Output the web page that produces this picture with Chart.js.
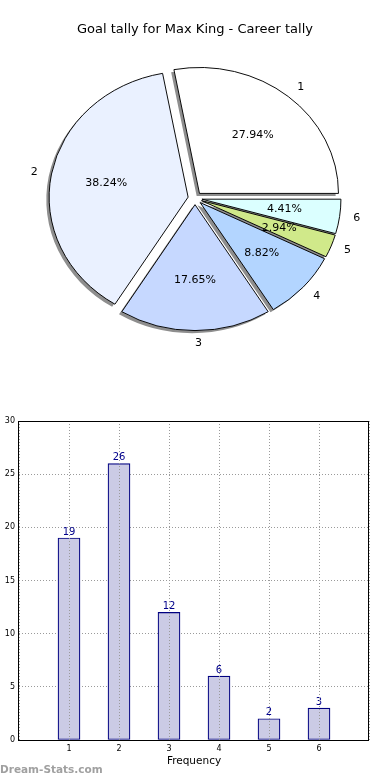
<!DOCTYPE html>
<html>
<head>
<meta charset="utf-8">
<script src="https://cdn.jsdelivr.net/npm/chart.js@4.4.1/dist/chart.umd.min.js"></script>
<style>
  body { margin: 0; background: #fff; }
  canvas { display: block; }
</style>
</head>
<body>
<canvas id="pie" width="390" height="360"></canvas>
<canvas id="bars" width="390" height="420"></canvas>
<script>
const categories = ['1', '2', '3', '4', '5', '6'];
const goals = [19, 26, 12, 6, 2, 3];
const sliceColors = ['#ffffff', '#eaf1ff', '#c6d8ff', '#b3d5ff', '#d0e98a', '#dbffff'];
const yTicks = [0, 5, 10, 15, 20, 25, 30];

Chart.defaults.font.family = '"DejaVu Sans", sans-serif';
Chart.defaults.color = '#000';

// matplotlib draws counter-clockwise from 3 o'clock, chart.js clockwise -> reverse order
const order = categories.map((c, i) => i).reverse();
const squash = 0.906; // the pie in the picture is a bit flattened
const explode = 7;
const total = goals.reduce((a, b) => a + b, 0);

const pieLook = {
  id: 'pieLook',
  beforeDatasetsDraw(chart) {
    const ctx = chart.ctx;
    const arcs = chart.getDatasetMeta(0).data;
    const cx = arcs[0].x, cy = arcs[0].y;
    ctx.save();
    ctx.translate(cx, cy);
    ctx.scale(1, squash);
    ctx.translate(-cx, -cy);
    const pull = el => {
      const mid = (el.startAngle + el.endAngle) / 2;
      ctx.translate(Math.cos(mid) * explode, Math.sin(mid) * explode);
    };
    // shadows first, under every wedge
    arcs.forEach(el => {
      const o = el.options;
      ctx.save();
      pull(el);
      ctx.translate(-2.8, 2.6 / squash);
      el.options = Object.assign({}, o, { backgroundColor: '#8e8e8e', borderColor: 'rgba(0,0,0,0)' });
      el.draw(ctx);
      el.options = o;
      ctx.restore();
    });
    arcs.forEach(el => {
      ctx.save();
      pull(el);
      el.draw(ctx);
      ctx.restore();
    });
    ctx.restore();
  },
  beforeDatasetDraw() {
    return false;
  },
  afterDatasetsDraw(chart) {
    const ctx = chart.ctx;
    const arcs = chart.getDatasetMeta(0).data;
    ctx.save();
    ctx.font = '11px "DejaVu Sans"';
    ctx.fillStyle = '#000';
    ctx.textBaseline = 'middle';
    arcs.forEach((el, j) => {
      const i = order[j];
      const mid = (el.startAngle + el.endAngle) / 2;
      const at = f => [
        el.x + Math.cos(mid) * (explode + f * el.outerRadius),
        el.y + Math.sin(mid) * (explode + f * el.outerRadius) * squash
      ];
      let [px, py] = at(0.6);
      ctx.textAlign = 'center';
      ctx.fillText((goals[i] / total * 100).toFixed(2) + '%', px, py);
      [px, py] = at(1.1);
      ctx.textAlign = Math.cos(mid) < -0.01 ? 'right' : 'left';
      ctx.fillText(categories[i], px, py);
    });
    ctx.restore();
  }
};

new Chart(document.getElementById('pie'), {
  type: 'pie',
  data: {
    labels: order.map(i => categories[i]),
    datasets: [{
      data: order.map(i => goals[i]),
      backgroundColor: order.map(i => sliceColors[i]),
      borderColor: '#000',
      borderWidth: 1,
      offset: 0,
      hoverOffset: 0
    }]
  },
  options: {
    responsive: false,
    animation: false,
    rotation: 90,
    radius: 139,
    layout: { padding: { bottom: 9 } },
    plugins: {
      legend: { display: false },
      tooltip: { enabled: false },
      title: {
        display: true,
        text: 'Goal tally for Max King - Career tally',
        font: { size: 13, weight: 'normal' },
        color: '#000',
        padding: { top: 22, bottom: 8 }
      }
    }
  },
  plugins: [pieLook]
});

const barExtras = {
  id: 'barExtras',
  afterDatasetsDraw(chart) {
    const ctx = chart.ctx;
    ctx.save();
    ctx.font = '10px "DejaVu Sans"';
    ctx.fillStyle = '#00008b';
    ctx.textAlign = 'center';
    ctx.textBaseline = 'bottom';
    chart.getDatasetMeta(0).data.forEach((el, i) => {
      ctx.fillText(String(goals[i]), el.x, el.y - 1);
    });
    ctx.restore();
  },
  afterDraw(chart) {
    const ctx = chart.ctx;
    const a = chart.chartArea;
    ctx.save();
    ctx.strokeStyle = '#000';
    ctx.lineWidth = 1;
    ctx.strokeRect(Math.round(a.left) - 0.5, Math.round(a.top) + 0.5,
      Math.round(a.right - a.left), Math.round(a.bottom - a.top));
    ctx.font = 'bold 10.5px "DejaVu Sans"';
    ctx.fillStyle = '#a0a0a0';
    ctx.textAlign = 'left';
    ctx.textBaseline = 'middle';
    ctx.fillText('Dream-Stats.com', 0, 410);
    ctx.restore();
  }
};

new Chart(document.getElementById('bars'), {
  type: 'bar',
  data: {
    datasets: [{
      data: categories.map((c, i) => ({ x: Number(c), y: goals[i] })),
      backgroundColor: '#cbcbe5',
      borderColor: '#000080',
      borderWidth: 1.2,
      borderSkipped: false,
      barThickness: 22
    }]
  },
  options: {
    responsive: false,
    animation: false,
    layout: { padding: { top: 61, right: 21, left: 0, bottom: 0 } },
    plugins: {
      legend: { display: false },
      tooltip: { enabled: false }
    },
    scales: {
      x: {
        type: 'linear',
        min: 0,
        max: 7,
        offset: false,
        afterFit: s => { s.height = 40; },
        afterBuildTicks: s => {
          s.ticks = [0, ...categories.map(Number), 7].map(v => ({ value: v }));
        },
        ticks: {
          padding: 4,
          autoSkip: false,
          maxRotation: 0,
          font: { size: 8 },
          color: '#000',
          callback: v => categories.includes(String(v)) ? String(v) : ''
        },
        grid: { color: '#9a9a9a', drawTicks: false, offset: false, z: 1 },
        border: { display: false, dash: [1, 2] },
        title: {
          display: true,
          text: 'Frequency',
          font: { size: 10.5 },
          color: '#000',
          padding: { top: 0, bottom: 12 }
        }
      },
      y: {
        min: 0,
        max: 30,
        afterFit: s => { s.width = 19; },
        afterBuildTicks: s => { s.ticks = yTicks.map(v => ({ value: v })); },
        ticks: { padding: 4, font: { size: 8 }, color: '#000' },
        grid: { color: '#9a9a9a', drawTicks: false },
        border: { display: false, dash: [1, 2] },
        title: {
          display: true,
          text: 'Goals scored',
          font: { size: 10 },
          color: '#000',
          padding: { top: -9, bottom: 0 }
        }
      }
    }
  },
  plugins: [barExtras]
});
</script>
</body>
</html>
